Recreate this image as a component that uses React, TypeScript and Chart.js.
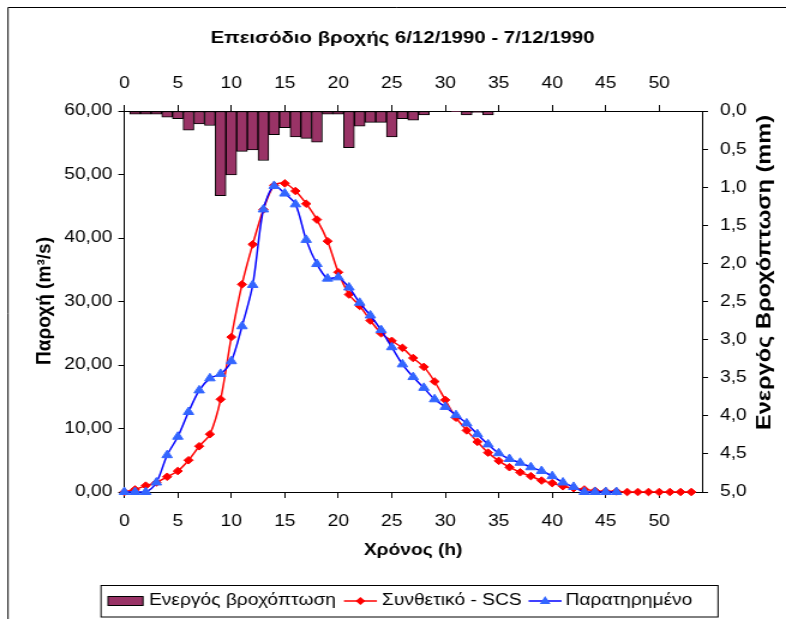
import React, { useEffect, useRef } from "react";
import { Chart, registerables } from "chart.js";

Chart.register(...registerables);

// ---------------- data ----------------
const hours = [
  0, 1, 2, 3, 4, 5, 6, 7, 8, 9, 10, 11, 12, 13, 14, 15, 16, 17, 18, 19, 20, 21, 22, 23, 24, 25, 26,
  27, 28, 29, 30, 31, 32, 33, 34, 35, 36, 37, 38, 39, 40, 41, 42, 43, 44, 45, 46, 47, 48, 49, 50, 51,
  52, 53,
];

// Συνθετικό - SCS (m3/s)
const synthetic = [
  0, 0.4, 1.0, 1.5, 2.4, 3.3, 5.0, 7.2, 9.1, 14.6, 24.4, 32.7, 39.0, 44.5, 48.3, 48.6, 47.4, 45.4,
  42.9, 39.5, 34.6, 31.1, 29.3, 27.0, 25.0, 23.8, 22.7, 21.1, 19.7, 17.4, 14.5, 11.7, 9.7, 7.9, 6.2,
  4.9, 3.9, 3.1, 2.5, 1.8, 1.4, 0.9, 0.6, 0.4, 0.2, 0.1, 0.1, 0, 0, 0, 0, 0, 0, 0,
];

// Παρατηρημένο (m3/s), hours 0..46
const observed = [
  0, 0, 0, 1.5, 5.8, 8.7, 12.6, 16.0, 17.9, 18.6, 20.6, 26.1, 32.6, 44.5, 48.2, 47.0, 45.3, 39.7,
  35.9, 33.6, 33.8, 32.2, 29.8, 27.8, 25.5, 22.8, 20.1, 18.1, 16.4, 14.6, 13.4, 12.1, 10.8, 9.1, 7.5,
  6.1, 5.2, 4.6, 3.9, 3.3, 2.5, 1.5, 0.8, 0, 0, 0, 0,
];

// Ενεργός βροχόπτωση (mm) per hourly interval, plotted at interval midpoints
const rainMid = [
  0.5, 1.5, 2.5, 3.5, 4.5, 5.5, 6.5, 7.5, 8.5, 9.5, 10.5, 11.5, 12.5, 13.5, 14.5, 15.5, 16.5, 17.5,
  18.5, 19.5, 20.5, 21.5, 22.5, 23.5, 24.5, 25.5, 26.5, 27.5, 28.5, 29.5, 30.5, 31.5, 32.5, 33.5,
];
const rain = [
  0.04, 0.04, 0.04, 0.08, 0.1, 0.25, 0.17, 0.19, 1.11, 0.84, 0.53, 0.51, 0.65, 0.31, 0.22, 0.34,
  0.36, 0.41, 0.04, 0.04, 0.48, 0.2, 0.15, 0.15, 0.34, 0.1, 0.12, 0.05, 0, 0, 0.01, 0.05, 0.02, 0.05,
];

const timeTicks = [0, 5, 10, 15, 20, 25, 30, 35, 40, 45, 50];
const flowTicks = [0, 10, 20, 30, 40, 50, 60];
const rainTicks = [0, 0.5, 1, 1.5, 2, 2.5, 3, 3.5, 4, 4.5, 5];

const TITLE = "Επεισόδιο βροχής 6/12/1990 - 7/12/1990";
const X_TITLE = "Χρόνος (h)";
const Y_TITLE = "Παροχή (m³/s)";
const Y2_TITLE = "Ενεργός Βροχόπτωση (mm)";
const LEG_RAIN = "Ενεργός βροχόπτωση";
const LEG_SYN = "Συνθετικό - SCS";
const LEG_OBS = "Παρατηρημένο";

// ---------------- layout ----------------
const OUT_W = 786;
const OUT_H = 619;
const W = 655; // intrinsic canvas width (image is horizontally stretched)
const SX = OUT_W / W;
const px = (v: number) => v / SX;

const FONT = "'Liberation Sans', Arial, sans-serif";
const BAR_COLOR = "#993366";
const RED = "#FF0000";
const BLUE_LINE = "#0000FF";
const BLUE_PT = "#3366FF";

const AREA_LEFT = px(124.3);
const AREA_RIGHT = px(702);
const AREA_TOP = 111;
const AREA_BOTTOM = 492;
const X_AXIS_H = 551 + 9.6 - AREA_BOTTOM;
const X_MAX = 54;

function drawVerticalText(
  ctx: CanvasRenderingContext2D,
  text: string,
  cx: number,
  cy: number,
  length: number,
  font: string
) {
  ctx.save();
  ctx.font = font;
  ctx.textAlign = "center";
  ctx.textBaseline = "middle";
  const w = ctx.measureText(text).width;
  ctx.translate(cx, cy);
  ctx.rotate(-Math.PI / 2);
  ctx.scale(length / w, 1);
  ctx.fillText(text, 0, 0);
  ctx.restore();
}

const decor = {
  id: "decor",
  afterDraw(chart: any) {
    const ctx: CanvasRenderingContext2D = chart.ctx;
    ctx.save();
    // outer frame
    ctx.strokeStyle = "#000";
    ctx.lineWidth = 1;
    ctx.beginPath();
    ctx.moveTo(px(8), OUT_H);
    ctx.lineTo(px(8), 7.5);
    ctx.lineTo(W, 7.5);
    ctx.stroke();

    // title
    ctx.fillStyle = "#000";
    ctx.textAlign = "center";
    ctx.textBaseline = "middle";
    ctx.font = `bold 17px ${FONT}`;
    ctx.fillText(TITLE, px(402.5), 38);

    // axis titles (read bottom to top)
    drawVerticalText(ctx, Y_TITLE, px(45), 301, 128, `bold 16px ${FONT}`);
    drawVerticalText(ctx, Y2_TITLE, px(765.5), 272.5, 315, `bold 16px ${FONT}`);

    // legend
    const cy = 601;
    ctx.font = `16px ${FONT}`;
    ctx.textAlign = "left";
    ctx.textBaseline = "middle";
    let x = px(108);
    // bar swatch
    ctx.fillStyle = BAR_COLOR;
    ctx.fillRect(x, cy - 4.5, px(35), 9);
    ctx.strokeStyle = "#000";
    ctx.lineWidth = 1;
    ctx.strokeRect(x, cy - 4.5, px(35), 9);
    x += px(35) + px(6);
    ctx.fillStyle = "#000";
    ctx.fillText(LEG_RAIN, x, cy);
    x += ctx.measureText(LEG_RAIN).width + px(8);
    // red line + diamond
    const lw = px(33);
    ctx.strokeStyle = RED;
    ctx.lineWidth = 1.5;
    ctx.beginPath();
    ctx.moveTo(x, cy);
    ctx.lineTo(x + lw, cy);
    ctx.stroke();
    ctx.fillStyle = RED;
    ctx.beginPath();
    const dx = x + lw / 2;
    ctx.moveTo(dx, cy - 4);
    ctx.lineTo(dx + 4, cy);
    ctx.lineTo(dx, cy + 4);
    ctx.lineTo(dx - 4, cy);
    ctx.closePath();
    ctx.fill();
    x += lw + px(5);
    ctx.fillStyle = "#000";
    ctx.fillText(LEG_SYN, x, cy);
    x += ctx.measureText(LEG_SYN).width + px(7);
    // blue line + triangle
    ctx.strokeStyle = BLUE_LINE;
    ctx.beginPath();
    ctx.moveTo(x, cy);
    ctx.lineTo(x + lw, cy);
    ctx.stroke();
    ctx.fillStyle = BLUE_PT;
    const tx = x + lw / 2;
    ctx.beginPath();
    ctx.moveTo(tx, cy - 5);
    ctx.lineTo(tx + 4.5, cy + 3);
    ctx.lineTo(tx - 4.5, cy + 3);
    ctx.closePath();
    ctx.fill();
    x += lw + px(4);
    ctx.fillStyle = "#000";
    ctx.fillText(LEG_OBS, x, cy);
    x += ctx.measureText(LEG_OBS).width;
    // legend box
    const bl = px(101);
    const br = Math.max(px(718), x + px(22));
    ctx.strokeStyle = "#000";
    ctx.lineWidth = 1;
    ctx.strokeRect(bl, 585.5, br - bl, 31.5);
    ctx.restore();
  },
};

const fixTicks = (vals: number[]) => (s: any) => {
  s.ticks = vals.map((v) => ({ value: v }));
};

const axisGrid = { drawOnChartArea: false, drawTicks: true, tickLength: 5, color: "#000", lineWidth: 1 };
const axisBorder = { display: true, color: "#000", width: 1 };
const TICK_FONT = { size: 16 };

export default function App() {
  const ref = useRef<HTMLCanvasElement>(null);

  useEffect(() => {
    const canvas = ref.current;
    if (!canvas) return;
    Chart.defaults.font.family = FONT;
    Chart.defaults.color = "#000";

    const chart = new Chart(canvas, {
      type: "line",
      data: {
        datasets: [
          {
            type: "line",
            label: LEG_OBS,
            data: observed.map((v, i) => ({ x: hours[i], y: v })),
            xAxisID: "x",
            yAxisID: "y",
            borderColor: BLUE_LINE,
            backgroundColor: BLUE_PT,
            borderWidth: 1.5,
            pointStyle: "triangle",
            pointRadius: 5,
            pointBorderWidth: 1,
            pointBackgroundColor: BLUE_PT,
            pointBorderColor: BLUE_PT,
            tension: 0.3,
            clip: false,
            order: 1,
          } as any,
          {
            type: "line",
            label: LEG_SYN,
            data: synthetic.map((v, i) => ({ x: hours[i], y: v })),
            xAxisID: "x",
            yAxisID: "y",
            borderColor: RED,
            backgroundColor: RED,
            borderWidth: 1.5,
            pointStyle: "rectRot",
            pointRadius: 3.8,
            pointBorderWidth: 1,
            pointBackgroundColor: RED,
            pointBorderColor: RED,
            tension: 0.3,
            clip: false,
            order: 2,
          } as any,
          {
            type: "bar",
            label: LEG_RAIN,
            data: rain.map((v, i) => ({ x: rainMid[i], y: v })),
            xAxisID: "x2",
            yAxisID: "y2",
            backgroundColor: BAR_COLOR,
            borderColor: "#000",
            borderWidth: 1,
            borderSkipped: false,
            // one hour wide, in canvas pixels
            barThickness: (AREA_RIGHT - AREA_LEFT) / X_MAX,
            order: 3,
          } as any,
        ],
      },
      options: {
        responsive: false,
        animation: false,
        events: [],
        layout: { padding: { left: 0, right: 0, top: 0, bottom: OUT_H - AREA_BOTTOM - X_AXIS_H } },
        plugins: { legend: { display: false }, title: { display: false }, tooltip: { enabled: false } },
        scales: {
          x: {
            type: "linear",
            position: "bottom",
            min: 0,
            max: X_MAX,
            afterBuildTicks: fixTicks(timeTicks),
            afterFit: (s: any) => {
              s.height = X_AXIS_H;
            },
            ticks: { font: TICK_FONT, color: "#000", padding: 14, maxRotation: 0, autoSkip: false },
            grid: { ...axisGrid, tickLength: 6 },
            border: axisBorder,
            title: { display: true, text: X_TITLE, font: { size: 16, weight: "bold" }, color: "#000", padding: 0 },
          },
          x2: {
            type: "linear",
            position: "top",
            min: 0,
            max: X_MAX,
            offset: false,
            afterBuildTicks: fixTicks(timeTicks),
            afterFit: (s: any) => {
              s.height = AREA_TOP;
            },
            ticks: { font: TICK_FONT, color: "#000", padding: 12, maxRotation: 0, autoSkip: false },
            grid: { ...axisGrid, tickLength: 6, offset: false },
            border: axisBorder,
          },
          y: {
            type: "linear",
            position: "left",
            min: 0,
            max: 60,
            afterBuildTicks: fixTicks(flowTicks),
            afterFit: (s: any) => {
              s.width = AREA_LEFT;
            },
            ticks: {
              font: TICK_FONT,
              color: "#000",
              padding: 5,
              callback: (v: any) => Number(v).toFixed(2).replace(".", ","),
            },
            grid: axisGrid,
            border: axisBorder,
          },
          y2: {
            type: "linear",
            position: "right",
            min: 0,
            max: 5,
            reverse: true,
            afterBuildTicks: fixTicks(rainTicks),
            afterFit: (s: any) => {
              s.width = W - AREA_RIGHT;
            },
            ticks: {
              font: TICK_FONT,
              color: "#000",
              padding: 10,
              callback: (v: any) => Number(v).toFixed(1).replace(".", ","),
            },
            grid: axisGrid,
            border: axisBorder,
          },
        },
      } as any,
      plugins: [decor],
    });
    return () => chart.destroy();
  }, []);

  return (
    <div style={{ position: "absolute", left: 0, top: 0, width: OUT_W, height: OUT_H, background: "#fff" }}>
      <canvas
        ref={ref}
        width={W}
        height={OUT_H}
        style={{ width: `${OUT_W}px`, height: `${OUT_H}px`, display: "block" }}
      />
    </div>
  );
}
